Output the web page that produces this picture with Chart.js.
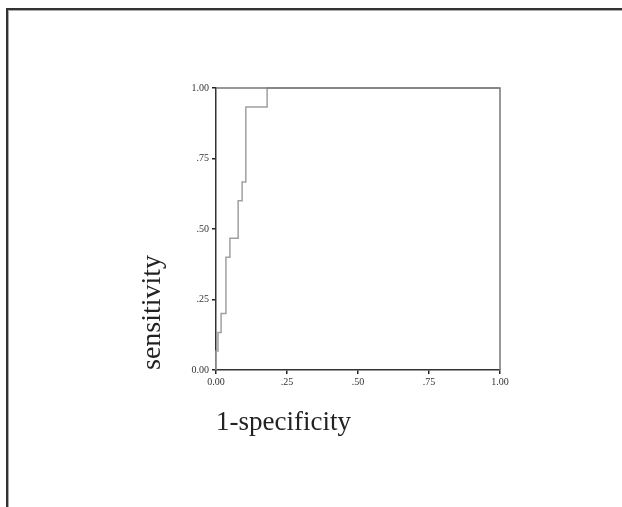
<!DOCTYPE html>
<html>
<head>
<meta charset="utf-8">
<script src="https://cdn.jsdelivr.net/npm/chart.js@4"></script>
<style>
	html, body { margin: 0; padding: 0; background: #fff; overflow: hidden; }
	#frame {
		position: absolute; left: 6px; top: 8px; width: 700px; height: 600px;
		border-top: 2px solid #333; border-left: 2px solid #333;
		box-shadow: inset 1px 1px 0 #aaa;
	}
	#grafico { position: absolute; left: 0; top: 0; }
</style>
</head>
<body>
<div id="frame"></div>
<canvas id="grafico" width="622" height="507"></canvas>
<script>
// Curva ROC (1-specificity, sensitivity)
const fpr = [0, 0, 0.007, 0.007, 0.018, 0.018, 0.035, 0.035, 0.049, 0.049, 0.078, 0.078, 0.092, 0.092, 0.105, 0.105, 0.18, 0.18, 1.0];
const tpr = [0, 0.067, 0.067, 0.133, 0.133, 0.2, 0.2, 0.4, 0.4, 0.467, 0.467, 0.6, 0.6, 0.667, 0.667, 0.933, 0.933, 1.0, 1.0];

const tickValues = [0, 0.25, 0.5, 0.75, 1];
const xTickLabels = ['0.00', '.25', '.50', '.75', '1.00'];
const yTickLabels = ['0.00', '.25', '.50', '.75', '1.00'];

const serif = '"Liberation Serif", "DejaVu Serif", serif';

// Bordo superiore e destro del riquadro
const cornice = {
	id: 'cornice',
	afterDraw(chart) {
		const { ctx, chartArea: a } = chart;
		ctx.save();
		ctx.strokeStyle = '#777';
		ctx.lineWidth = 1.5;
		ctx.beginPath();
		ctx.moveTo(a.left, a.top);
		ctx.lineTo(a.right, a.top);
		ctx.lineTo(a.right, a.bottom);
		ctx.stroke();
		ctx.restore();
	}
};

new Chart(document.getElementById('grafico'), {
	type: 'scatter',
	data: {
		datasets: [{
			data: fpr.map((x, i) => ({ x: x, y: tpr[i] })),
			showLine: true,
			borderColor: '#a0a0a0',
			borderWidth: 1.5,
			pointRadius: 0,
			tension: 0,
			clip: false,
		}]
	},
	options: {
		responsive: false,
		animation: false,
		layout: { padding: { left: 136, right: 122, top: 88, bottom: 67 } },
		plugins: { legend: { display: false }, tooltip: { enabled: false } },
		scales: {
			x: {
				type: 'linear', min: 0, max: 1,
				afterBuildTicks: (s) => { s.ticks = tickValues.map(v => ({ value: v })); },
				afterFit: (s) => { s.height = 70; },
				grid: { drawOnChartArea: false, drawTicks: true, tickLength: 4, color: '#222', lineWidth: 1.5 },
				border: { display: true, color: '#333', width: 1.5 },
				ticks: {
					padding: 2, color: '#333',
					font: { family: serif, size: 10 },
					callback: (v, i) => xTickLabels[i],
				},
				title: {
					display: true, text: '1-specificity', align: 'start', color: '#222',
					font: { family: serif, size: 27 },
					padding: { top: 0, bottom: 1 },
				},
			},
			y: {
				type: 'linear', min: 0, max: 1,
				afterBuildTicks: (s) => { s.ticks = tickValues.map(v => ({ value: v })); },
				afterFit: (s) => { s.width = 80; },
				grid: { drawOnChartArea: false, drawTicks: true, tickLength: 4, color: '#222', lineWidth: 1.5 },
				border: { display: true, color: '#333', width: 1.5 },
				ticks: {
					padding: 3, color: '#333',
					font: { family: serif, size: 10 },
					callback: (v, i) => yTickLabels[i],
				},
				title: {
					display: true, text: 'sensitivity', align: 'start', color: '#222',
					font: { family: serif, size: 28 },
					padding: { top: 0, bottom: 0 },
				},
			},
		},
	},
	plugins: [cornice],
});
</script>
</body>
</html>
